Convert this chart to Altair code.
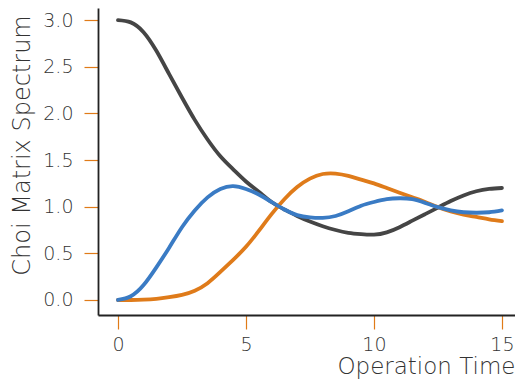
import altair as alt
import pandas as pd

t = [0, 0.5, 1, 1.5, 2, 2.5, 3, 3.5, 4, 4.5, 5, 5.5, 6, 6.5, 7, 7.5, 8, 8.5, 9, 9.5,
     10, 10.5, 11, 11.5, 12, 12.5, 13, 13.5, 14, 14.5, 15]
gray = [3.00, 2.975, 2.87, 2.67, 2.42, 2.17, 1.93, 1.72, 1.54, 1.40, 1.27, 1.16, 1.05, 0.97,
        0.90, 0.84, 0.79, 0.75, 0.72, 0.705, 0.70, 0.725, 0.78, 0.85, 0.92, 0.99, 1.06,
        1.12, 1.165, 1.19, 1.20]
orange = [0.0, 0.0, 0.003, 0.012, 0.03, 0.055, 0.10, 0.18, 0.30, 0.43, 0.57, 0.74, 0.92,
          1.08, 1.21, 1.30, 1.35, 1.355, 1.33, 1.29, 1.25, 1.20, 1.15, 1.10, 1.05, 0.995,
          0.95, 0.915, 0.89, 0.865, 0.845]
blue = [0.0, 0.04, 0.16, 0.35, 0.56, 0.78, 0.96, 1.10, 1.19, 1.22, 1.19, 1.13, 1.05, 0.97,
        0.91, 0.885, 0.88, 0.90, 0.95, 1.01, 1.05, 1.08, 1.09, 1.08, 1.04, 0.995, 0.96,
        0.94, 0.935, 0.94, 0.96]

x_ticks = [0, 5, 10, 15]
y_ticks = [0.0, 0.5, 1.0, 1.5, 2.0, 2.5, 3.0]

series = [("gray", gray, "#454545"), ("orange", orange, "#df7b1a"), ("blue", blue, "#3a7bc4")]
rows = []
for name, vals, _ in series:
    for ti, v in zip(t, vals):
        rows.append({"t": ti, "v": v, "s": name})
df = pd.DataFrame(rows)

FONT = "DejaVu Sans"

x_enc = alt.X("t:Q", scale=alt.Scale(domain=[-0.78, 15.51], nice=False, zero=False),
              axis=alt.Axis(values=x_ticks, title="Operation Time", format="d",
                            titleAnchor="end", titleAlign="right", titleBaseline="alphabetic",
                            titleX=417, titleY=58, titleFontSize=23, labelPadding=6))
y_enc = alt.Y("v:Q", scale=alt.Scale(domain=[-0.161, 3.129], nice=False, zero=False),
              axis=alt.Axis(values=y_ticks, title="Choi Matrix Spectrum", format=".1f",
                            titleAngle=270, titleAlign="center", titleBaseline="alphabetic",
                            titleX=-69, titleY=137, labelPadding=11))

layers = []
for name, _, col in series:
    layers.append(
        alt.Chart(df).transform_filter(alt.datum.s == name)
        .mark_line(color=col, strokeWidth=3.8, interpolate="natural", strokeCap="round")
        .encode(x=x_enc, y=y_enc)
    )

chart = alt.layer(*layers).properties(
    width=417, height=307,
    autosize=alt.AutoSizeParams(type="none"),
    padding={"left": 90, "top": 0, "right": 0, "bottom": 64},
).configure_view(stroke=None).configure_axis(
    grid=False,
    domainColor="#222222", domainWidth=1.8,
    tickColor="#e07b18", tickWidth=1.2, tickSize=14,
    labelFont=FONT, labelFontSize=19, labelColor="#333333", labelFontWeight=300,
    titleFont=FONT, titleFontSize=24, titleColor="#333333", titleFontWeight=300,
)

chart.save("out.html", embed_options={"renderer": "svg", "actions": False})
